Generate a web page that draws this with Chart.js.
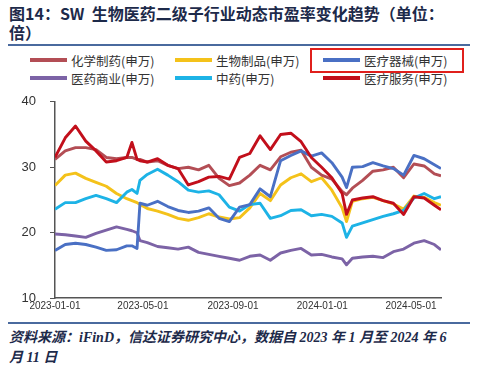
<!DOCTYPE html>
<html>
<head>
<meta charset="utf-8">
<script src="https://cdn.jsdelivr.net/npm/chart.js@4.4.1/dist/chart.umd.min.js"></script>
<style>
    body { margin: 0; width: 500px; height: 374px; background: #fff; position: relative; overflow: hidden; font-family: "Noto Sans CJK SC", sans-serif; }
    #title { position: absolute; left: 9px; top: 4px; font-size: 16px; line-height: 19px; font-weight: bold; color: #1d2a4a; white-space: nowrap; }
    .rule { position: absolute; left: 8px; width: 462px; height: 2px; background: #4a6a9e; }
    .item { position: absolute; height: 18px; font-size: 12.5px; color: #333; white-space: nowrap; display: flex; align-items: center; }
    .item i { display: inline-block; width: 37px; height: 3.5px; margin-right: 4px; }
    #box { position: absolute; left: 310px; top: 48px; width: 150px; height: 21px; border: 2px solid #e0201c; }
    #chart { position: absolute; left: 0; top: 80px; }
    #source { position: absolute; left: 9px; top: 328px; font-size: 14px; line-height: 20px; font-style: italic; font-weight: bold; color: #1d2a4a; white-space: nowrap; font-family: "Liberation Serif", "Noto Sans CJK SC", serif; }
</style>
</head>
<body>
<div id="title">图14：SW&nbsp; 生物医药二级子行业动态市盈率变化趋势（单位：<br>倍）</div>
<div class="rule" style="top:44px"></div>
<div id="legend"></div>
<div id="box"></div>
<canvas id="chart" width="470" height="240"></canvas>
<div class="rule" style="top:322px"></div>
<div id="source">资料来源：iFinD，信达证券研究中心，数据自 2023 年 1 月至 2024 年 6<br>月 11 日</div>

<script>
// 日期：自 2023-01-01 起的天数
const dates = [0, 14, 28, 42, 56, 70, 84, 98, 105, 112, 116, 126, 140, 154, 168, 182, 196, 210, 224, 238, 252,
    266, 280, 294, 308, 322, 336, 350, 364, 378, 392, 398, 406, 420, 434, 448, 462, 476, 490, 504, 518, 527];
const tickDays = [0, 120, 243, 365, 486];
const tickLabels = ['2023-01-01', '2023-05-01', '2023-09-01', '2024-01-01', '2024-05-01'];

const seriesNames = ['化学制药(申万)', '生物制品(申万)', '医疗器械(申万)', '医药商业(申万)', '中药(申万)', '医疗服务(申万)'];
const seriesColors = ['#b34e55', '#f4c21a', '#4a70c4', '#7c63a6', '#1db3e6', '#c20f1b'];

const chemPharma = [31.2, 32.5, 33.0, 33.0, 32.7, 31.5, 31.3, 31.5, 31.5, 31.2, 31.2, 30.8, 31.0, 30.3, 29.8, 30.0, 29.6, 30.3, 28.3, 27.2, 27.6,
    28.8, 30.3, 29.6, 31.6, 32.3, 32.6, 30.0, 28.8, 28.2, 26.3, 25.8, 26.8, 28.0, 29.4, 29.6, 30.0, 28.4, 30.5, 30.2, 29.0, 28.7];
const bioProducts = [27.2, 28.8, 29.1, 28.3, 27.7, 27.1, 26.0, 25.2, 24.9, 24.6, 24.3, 23.7, 23.3, 22.8, 22.2, 21.9, 22.3, 22.9, 22.4, 22.1, 22.3,
    23.8, 26.0, 24.9, 27.3, 28.4, 29.0, 27.8, 28.4, 26.5, 23.8, 21.7, 24.8, 25.2, 25.4, 24.9, 24.4, 23.6, 25.6, 25.4, 24.6, 24.2];
const devices = [17.3, 18.2, 18.4, 18.2, 17.8, 17.3, 17.4, 18.0, 18.0, 17.6, 24.5, 24.2, 24.8, 24.0, 23.4, 23.1, 23.3, 23.8, 22.2, 21.7, 23.9,
    24.3, 26.7, 25.5, 31.0, 31.8, 32.5, 31.7, 32.2, 30.7, 28.5, 26.9, 30.0, 30.1, 30.7, 30.2, 29.8, 28.8, 31.8, 31.3, 30.4, 29.8];
const commerce = [19.8, 19.7, 19.5, 19.3, 19.9, 20.4, 20.9, 20.5, 20.3, 20.0, 18.8, 18.5, 17.9, 17.7, 17.5, 17.8, 17.0, 16.7, 16.4, 16.1, 15.8,
    16.4, 16.6, 15.8, 16.9, 17.3, 17.6, 16.6, 16.7, 16.3, 16.0, 15.1, 16.1, 16.3, 16.4, 16.2, 17.1, 17.5, 18.4, 18.8, 18.2, 17.4];
const tcm = [23.6, 24.6, 24.6, 25.2, 25.7, 25.2, 24.6, 26.2, 26.6, 26.0, 28.0, 28.9, 29.7, 28.8, 27.8, 26.5, 26.2, 26.4, 25.8, 23.9, 23.3,
    24.3, 24.5, 22.2, 22.6, 23.4, 23.5, 22.6, 22.8, 22.5, 21.5, 19.3, 21.0, 21.5, 22.0, 22.5, 22.9, 23.4, 25.3, 26.0, 25.2, 25.5];
const services = [31.5, 34.5, 36.3, 34.0, 32.5, 30.8, 31.0, 31.5, 33.8, 31.2, 31.0, 30.8, 31.3, 30.3, 29.8, 27.3, 27.8, 28.5, 28.6, 28.2, 31.5,
    32.1, 34.8, 32.7, 35.0, 35.2, 33.9, 31.5, 30.0, 28.4, 26.0, 22.8, 25.0, 25.3, 25.5, 24.9, 24.5, 22.8, 25.5, 25.3, 24.2, 23.5];

const allSeries = [chemPharma, bioProducts, devices, commerce, tcm, services];
const drawOrder = [2, 4, 1, 5, 3, 0]; // 越小越靠上

// 图例（三列两行）
const legend = document.getElementById('legend');
const colX = [30, 175, 323];
const rowY = [51, 69];
seriesNames.forEach((name, i) => {
    const div = document.createElement('div');
    div.className = 'item';
    div.style.left = colX[i % 3] + 'px';
    div.style.top = rowY[Math.floor(i / 3)] + 'px';
    div.innerHTML = '<i style="background:' + seriesColors[i] + '"></i>' + name;
    legend.appendChild(div);
});

const datasets = allSeries.map((vals, i) => ({
    label: seriesNames[i],
    data: dates.map((d, j) => ({ x: d, y: vals[j] })),
    borderColor: seriesColors[i],
    backgroundColor: seriesColors[i],
    borderWidth: 2.9,
    pointRadius: 0,
    tension: 0,
    borderJoinStyle: 'round',
    order: drawOrder[i]
}));

new Chart(document.getElementById('chart'), {
    type: 'line',
    data: { datasets: datasets },
    options: {
        responsive: false,
        animation: false,
        layout: { padding: { top: 10, right: 29, left: 0, bottom: 0 } },
        plugins: { legend: { display: false }, tooltip: { enabled: false } },
        scales: {
            x: {
                type: 'linear',
                min: 0,
                max: 527,
                afterBuildTicks: scale => { scale.ticks = tickDays.map(v => ({ value: v })); },
                afterFit: scale => { scale.height = 20; },
                grid: { display: false, drawTicks: false },
                border: { color: '#555', width: 1.5 },
                ticks: {
                    padding: 2,
                    maxRotation: 0,
                    autoSkip: false,
                    color: '#333',
                    font: { family: 'Liberation Sans', size: 10 },
                    callback: v => tickLabels[tickDays.indexOf(v)]
                }
            },
            y: {
                min: 10,
                max: 40,
                afterFit: scale => { scale.width = 55; },
                grid: { drawOnChartArea: false, drawTicks: true, tickLength: 5, color: '#555' },
                border: { color: '#555', width: 1.5 },
                ticks: {
                    stepSize: 10,
                    padding: 14,
                    color: '#333',
                    font: { family: 'Liberation Sans', size: 13 }
                }
            }
        }
    }
});
</script>
</body>
</html>
